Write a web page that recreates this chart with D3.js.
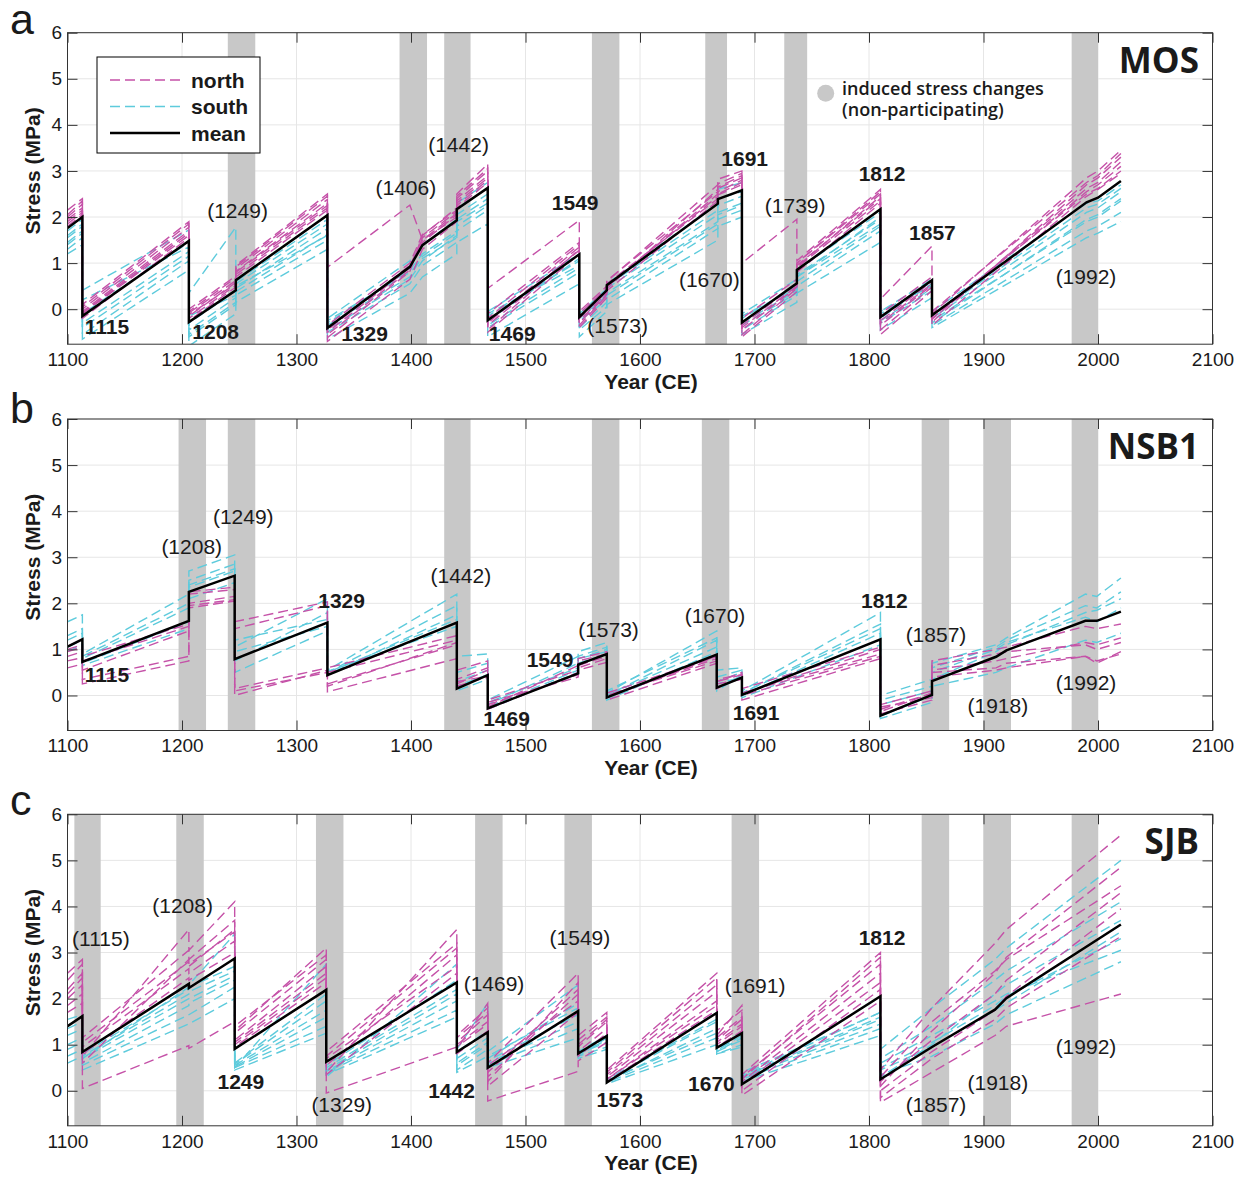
<html>
<head>
<title>Stress evolution MOS / NSB1 / SJB</title>
<script src="https://d3js.org/d3.v7.min.js"></script>
<style>
  body { margin: 0; background: #fff; }
  text { font-family: "Liberation Sans", Arial, sans-serif; fill: #1a1a1a; }
</style>
</head>
<body>
<script>
const w = 1250;
const h = 1177;
const xLeft = 67.5;
const xRight = 1212.5;
const plotH = 311.5;

const xTicks = [1100, 1200, 1300, 1400, 1500, 1600, 1700, 1800, 1900, 2000, 2100];
const yTicks = [0, 1, 2, 3, 4, 5, 6];

// ---- panel a : MOS ----
const yearsA = [1100, 1113, 1113, 1206, 1206, 1247, 1247, 1327, 1327, 1399, 1410, 1440, 1440, 1467, 1467, 1547,
  1547, 1571, 1571, 1668, 1668, 1689, 1689, 1737, 1737, 1810, 1810, 1855, 1855, 1990, 2000, 2020];
const meanA = [1.76, 2.00, -0.15, 1.48, -0.28, 0.41, 0.63, 2.04, -0.41, 0.92, 1.39, 1.93, 2.17, 2.63, -0.24, 1.19,
  -0.17, 0.41, 0.52, 2.29, 2.39, 2.58, -0.29, 0.56, 0.85, 2.17, -0.17, 0.63, -0.13, 2.32, 2.42, 2.78];
const northA = [
  [1.95, 2.20, -0.05, 1.70, -0.15, 0.58, 0.82, 2.30, -0.50, 0.90, 1.45, 2.05, 2.35, 2.90, -0.30, 1.35, -0.25, 0.35, 0.50, 2.45, 2.55, 2.80, -0.40, 0.50, 0.95, 2.40, -0.30, 0.55, -0.20, 2.55, 2.70, 3.10],
  [2.05, 2.35, 0.05, 1.85, -0.05, 0.68, 0.92, 2.45, -0.62, 0.82, 1.55, 2.12, 2.45, 3.05, -0.45, 1.30, -0.35, 0.30, 0.45, 2.60, 2.72, 2.95, -0.55, 0.45, 1.00, 2.55, -0.45, 0.48, -0.28, 2.70, 2.85, 3.30],
  [1.85, 2.10, -0.10, 1.60, -0.20, 0.52, 0.75, 2.20, 0.91, 2.26, 1.50, 2.00, 2.25, 2.80, -0.35, 1.28, -0.20, 0.38, 0.55, 2.40, 2.50, 2.75, -0.35, 0.55, 0.90, 2.35, -0.25, 0.60, -0.15, 2.50, 2.62, 3.00],
  [1.90, 2.15, -0.08, 1.65, -0.12, 0.55, 0.80, 2.25, -0.45, 0.95, 1.50, 2.08, 2.30, 2.85, 0.45, 1.93, -0.30, 0.32, 0.48, 2.50, 2.62, 2.85, -0.45, 0.48, 0.92, 2.45, -0.35, 0.52, -0.22, 2.62, 2.75, 3.20],
  [2.15, 2.40, 0.10, 1.90, 0.00, 0.72, 0.95, 2.50, -0.55, 0.85, 1.60, 2.20, 2.50, 3.15, -0.20, 1.40, -0.10, 0.45, 0.60, 2.70, 2.82, 3.00, 1.00, 1.95, 1.05, 2.60, 0.22, 1.37, -0.10, 2.85, 3.00, 3.45],
  [1.80, 2.05, -0.20, 1.55, -0.25, 0.48, 0.70, 2.15, -0.70, 0.65, 1.30, 1.90, 2.20, 2.75, -0.50, 1.20, -0.40, 0.25, 0.40, 2.35, 2.48, 2.70, -0.60, 0.38, 0.80, 2.30, -0.55, 0.40, -0.35, 2.45, 2.60, 2.95],
  [2.00, 2.28, 0.00, 1.78, -0.08, 0.62, 0.88, 2.38, -0.35, 1.00, 1.62, 2.15, 2.40, 3.00, -0.10, 1.45, -0.05, 0.50, 0.62, 2.55, 2.65, 2.90, -0.20, 0.65, 1.00, 2.50, -0.10, 0.70, -0.05, 2.75, 2.90, 3.38]
];
const southA = [
  [1.55, 1.80, -0.30, 1.25, -0.45, 0.25, 0.45, 1.75, -0.30, 0.85, 1.20, 1.70, 1.95, 2.40, -0.15, 1.05, -0.20, 0.30, 0.45, 2.05, 2.25, 2.45, -0.20, 0.50, 0.75, 1.95, -0.10, 0.55, -0.20, 2.10, 2.20, 2.55],
  [1.40, 1.65, 0.41, 1.72, 0.35, 1.78, 0.50, 1.60, -0.25, 0.80, 1.10, 1.55, 1.80, 2.25, -0.10, 0.95, -0.25, 0.20, 0.35, 1.90, 2.10, 2.30, -0.15, 0.45, 0.70, 1.85, -0.05, 0.50, -0.25, 1.90, 2.00, 2.35],
  [1.30, 1.55, -0.55, 1.05, -0.60, 0.10, 0.30, 1.50, -0.50, 0.55, 0.95, 1.45, 1.70, 2.15, -0.40, 0.80, -0.45, 0.05, 0.20, 1.75, 1.95, 2.15, -0.45, 0.30, 0.50, 1.70, -0.30, 0.40, -0.35, 1.70, 1.80, 2.10],
  [1.70, 1.95, -0.10, 1.45, -0.30, 0.40, 0.60, 1.95, -0.20, 1.05, 1.40, 1.95, 2.30, 2.75, -0.05, 1.20, -0.10, 0.45, 0.55, 2.30, 2.60, 2.75, -0.10, 0.65, 0.85, 2.10, -0.05, 0.65, -0.05, 2.30, 2.35, 2.70],
  [1.20, 1.40, -0.65, 0.85, -0.80, -0.10, 0.15, 1.30, -0.65, 0.35, 0.70, 1.20, 1.45, 1.85, -0.60, 0.55, -0.60, -0.05, 0.10, 1.50, 1.80, 2.00, -0.55, 0.15, 0.35, 1.45, -0.45, 0.25, -0.40, 1.55, 1.65, 1.90],
  [1.60, 1.85, 0.20, 1.35, -0.15, 0.30, 0.55, 1.85, -0.35, 0.70, 1.15, 1.65, 2.05, 2.50, -0.25, 1.10, -0.30, 0.35, 0.50, 2.15, 2.40, 2.55, -0.30, 0.40, 0.70, 2.00, -0.20, 0.60, -0.15, 2.20, 2.28, 2.62],
  [1.45, 1.70, -0.40, 1.15, -0.55, 0.15, 0.38, 1.62, -0.45, 0.65, 1.05, 1.60, 1.90, 2.30, -0.35, 0.90, -0.40, 0.15, 0.30, 1.85, 2.05, 2.25, -0.35, 0.35, 0.60, 1.80, -0.25, 0.45, -0.30, 1.95, 2.05, 2.40]
];
const bandsA = [[1240, 1264], [1390, 1414], [1429, 1452], [1558, 1582], [1657, 1676], [1726, 1746], [1977, 2000]];
// [text, year, stress, participating]
const labelsA = [["1115", 1115, -0.37, true], ["1208", 1209, -0.48, true], ["(1249)", 1222, 2.15, false],
  ["1329", 1339, -0.52, true], ["(1406)", 1369, 2.63, false], ["(1442)", 1415, 3.57, false],
  ["1469", 1468, -0.52, true], ["1549", 1523, 2.32, true], ["(1573)", 1554, -0.36, false],
  ["(1670)", 1634, 0.64, false], ["1691", 1671, 3.28, true], ["(1739)", 1709, 2.26, false],
  ["1812", 1791, 2.95, true], ["1857", 1835, 1.67, true], ["(1992)", 1963, 0.70, false]];

// ---- panel b : NSB1 ----
const yearsB = [1100, 1113, 1113, 1206, 1206, 1246, 1246, 1327, 1327, 1440, 1440, 1467, 1467, 1546, 1546, 1571,
  1571, 1667, 1667, 1689, 1689, 1810, 1810, 1855, 1855, 1911, 1920, 1989, 1999, 2020];
const meanB = [1.06, 1.22, 0.73, 1.62, 2.25, 2.60, 0.79, 1.58, 0.44, 1.58, 0.15, 0.44, -0.28, 0.48, 0.67, 0.90,
  -0.04, 0.89, 0.17, 0.39, 0.01, 1.22, -0.44, 0.01, 0.31, 0.84, 0.98, 1.62, 1.62, 1.82];
const northB = [
  [0.60, 0.68, 0.25, 0.75, 1.95, 2.08, 0.00, 0.55, 0.08, 0.80, 0.30, 0.42, -0.15, 0.40, 0.55, 0.72, 0.00, 0.75, 0.25, 0.35, -0.10, 0.80, -0.25, -0.05, 0.65, 0.90, 0.95, 1.10, 1.00, 1.15],
  [0.75, 0.82, 0.35, 0.85, 2.00, 2.15, 1.60, 2.03, 0.50, 1.20, 0.20, 0.40, -0.20, 0.45, 0.60, 0.80, -0.05, 0.85, 0.15, 0.40, 0.05, 0.90, -0.35, 0.05, 0.75, 1.00, 1.05, 1.50, 1.45, 1.55],
  [1.00, 1.10, 0.75, 1.50, 2.25, 2.35, 0.15, 0.60, 0.20, 1.15, 0.25, 0.55, -0.30, 0.50, 0.65, 0.85, 0.00, 0.80, 0.30, 0.45, 0.05, 1.00, -0.20, 0.10, 0.50, 0.60, 0.70, 0.85, 0.75, 0.90],
  [0.85, 0.95, 0.55, 1.40, 1.90, 2.05, 1.45, 1.95, 0.60, 1.30, 0.55, 0.75, -0.10, 0.55, 0.75, 0.90, -0.10, 0.70, 0.35, 0.45, 0.00, 0.85, -0.40, -0.10, 0.55, 0.75, 0.80, 1.15, 1.10, 1.25],
  [0.95, 1.05, 0.85, 1.55, 2.20, 2.30, 0.10, 0.50, 0.25, 1.10, 0.35, 0.60, -0.25, 0.65, 0.80, 0.95, 0.05, 0.85, 0.30, 0.50, 0.15, 1.05, -0.30, 0.05, 0.40, 0.55, 0.60, 0.85, 0.70, 0.95]
];
const southB = [
  [1.60, 1.75, 0.90, 2.20, 2.70, 3.05, 1.05, 2.10, 0.55, 2.20, 0.85, 0.90, -0.10, 0.85, 0.95, 1.15, 0.05, 1.40, 0.55, 0.60, 0.10, 1.80, 0.00, 0.35, 0.70, 1.10, 1.25, 2.20, 2.15, 2.55],
  [1.20, 1.35, 0.80, 1.90, 2.50, 2.85, 0.75, 1.80, 0.50, 1.95, 0.50, 0.70, -0.20, 0.70, 0.85, 1.05, 0.10, 1.25, 0.40, 0.55, 0.05, 1.55, -0.10, 0.20, 0.60, 1.05, 1.20, 1.95, 1.90, 2.25],
  [1.05, 1.20, 0.70, 1.60, 2.35, 2.70, 1.20, 1.65, 0.45, 1.75, 0.30, 0.55, -0.15, 0.60, 0.80, 0.95, 0.00, 1.05, 0.10, 0.45, 0.00, 1.35, -0.45, 0.00, 0.35, 0.95, 1.10, 1.80, 1.85, 2.10],
  [1.30, 1.45, 0.85, 2.00, 2.40, 2.75, 0.50, 1.40, 0.50, 1.65, 0.10, 0.35, -0.25, 0.55, 0.80, 1.00, 0.00, 1.20, 0.30, 0.50, 0.05, 1.45, -0.20, 0.10, 0.50, 1.00, 1.15, 1.70, 1.60, 1.90],
  [0.95, 1.10, 0.65, 1.45, 2.10, 2.45, 0.95, 1.50, 0.52, 1.50, 0.20, 0.45, -0.30, 0.50, 0.70, 0.90, -0.10, 0.95, 0.25, 0.40, -0.05, 1.10, -0.50, -0.15, 0.20, 0.50, 0.60, 1.20, 1.15, 1.35]
];
const bandsB = [[1197, 1221], [1240, 1264], [1429, 1452], [1558, 1582], [1654, 1678], [1846, 1870], [1900, 1924], [1977, 2000]];
const labelsB = [["1115", 1115, 0.45, true], ["(1208)", 1182, 3.23, false], ["(1249)", 1227, 3.88, false],
  ["1329", 1319, 2.07, true], ["(1442)", 1417, 2.61, false], ["1469", 1463, -0.51, true],
  ["1549", 1501, 0.78, true], ["(1573)", 1546, 1.44, false], ["(1670)", 1639, 1.74, false],
  ["1691", 1681, -0.37, true], ["1812", 1793, 2.07, true], ["(1857)", 1832, 1.33, false],
  ["(1918)", 1886, -0.21, false], ["(1992)", 1963, 0.28, false]];

// ---- panel c : SJB ----
const yearsC = [1100, 1113, 1113, 1206, 1206, 1246, 1246, 1326, 1326, 1440, 1440, 1467, 1467, 1546, 1546, 1571,
  1571, 1667, 1667, 1689, 1689, 1810, 1810, 1855, 1910, 1920, 2020];
const meanC = [1.40, 1.62, 0.84, 2.32, 2.23, 2.87, 0.91, 2.19, 0.63, 2.35, 0.84, 1.27, 0.50, 1.73, 0.81, 1.19,
  0.18, 1.69, 0.93, 1.25, 0.14, 2.05, 0.25, 0.95, 1.76, 2.01, 3.61];
const northC = [
  [2.00, 2.30, 0.95, 2.65, 2.55, 3.25, 1.05, 2.55, 0.70, 2.70, 0.95, 1.45, 0.55, 1.95, 0.85, 1.35, 0.25, 1.95, 1.00, 1.40, 0.15, 2.35, 0.00, 0.85, 1.75, 2.05, 3.95],
  [2.40, 2.75, 1.15, 3.05, 2.85, 3.70, 1.25, 2.85, 0.85, 3.20, 1.05, 1.65, 0.40, 2.20, 0.95, 1.50, 0.35, 2.30, 1.10, 1.55, 0.30, 2.75, 0.30, 1.50, 2.60, 2.85, 4.45],
  [1.85, 2.10, 0.05, 0.98, 0.92, 1.50, 0.95, 2.35, -0.05, 0.95, 0.80, 1.30, -0.22, 0.42, 0.65, 1.05, 0.20, 1.75, 0.95, 1.30, -0.10, 1.95, -0.25, 0.40, 1.20, 1.40, 2.10],
  [2.20, 2.55, 0.60, 2.85, 2.75, 3.45, 1.40, 2.95, 0.55, 2.95, 1.20, 1.80, 0.20, 2.35, 1.10, 1.60, 0.40, 2.45, 1.30, 1.75, 0.25, 2.90, 0.10, 1.30, 2.55, 2.90, 4.85],
  [2.55, 2.85, 0.75, 3.50, 3.05, 4.10, 1.10, 2.70, 0.40, 3.50, 0.90, 1.90, 0.60, 2.55, 1.20, 1.70, 0.30, 2.15, 1.20, 1.85, 0.35, 3.00, 0.45, 1.80, 3.20, 3.50, 5.55],
  [1.70, 1.90, 0.80, 2.45, 2.40, 3.00, 1.00, 2.45, 0.35, 2.55, 1.00, 1.50, 0.10, 1.70, 0.75, 1.25, 0.25, 1.85, 1.05, 1.45, 0.00, 2.20, -0.15, 0.70, 1.55, 1.80, 3.35],
  [2.10, 2.45, 1.05, 2.80, 2.70, 3.50, 1.30, 3.10, 0.75, 3.10, 1.15, 1.70, 0.30, 2.10, 1.00, 1.55, 0.45, 2.55, 1.15, 1.60, 0.20, 2.55, 0.20, 1.10, 2.10, 2.40, 4.30]
];
const southC = [
  [1.00, 1.15, 0.70, 2.00, 2.00, 2.50, 0.55, 1.75, 0.45, 2.10, 0.60, 1.05, 0.65, 1.65, 0.80, 1.10, 0.20, 1.35, 0.85, 1.15, 0.30, 1.55, 0.50, 1.05, 1.85, 2.05, 3.30],
  [0.75, 0.90, 0.55, 1.65, 1.65, 2.25, 0.50, 1.40, 0.40, 1.75, 0.45, 0.90, 0.55, 1.35, 0.75, 0.95, 0.18, 1.15, 0.80, 1.00, 0.25, 1.35, 0.60, 1.20, 1.95, 2.10, 3.05],
  [1.20, 1.35, 0.80, 2.20, 2.25, 2.70, 0.60, 2.10, 0.55, 2.40, 0.85, 1.30, 0.70, 1.90, 0.85, 1.20, 0.25, 1.55, 0.90, 1.25, 0.35, 1.70, 0.70, 1.40, 2.40, 2.60, 4.10],
  [0.60, 0.75, 0.45, 1.45, 1.45, 2.00, 0.45, 1.25, 0.35, 1.60, 0.40, 0.75, 0.50, 1.15, 0.70, 0.90, 0.15, 1.00, 0.80, 0.95, 0.20, 1.20, 0.35, 0.75, 1.45, 1.65, 2.80],
  [1.55, 1.65, 0.70, 2.25, 2.30, 3.40, 0.50, 2.75, 0.30, 2.75, 0.90, 1.90, 0.85, 2.30, 0.75, 1.15, 0.20, 1.70, 0.85, 1.30, 0.40, 1.70, 0.90, 1.80, 2.85, 3.10, 5.00],
  [0.90, 1.05, 0.60, 1.85, 1.90, 2.40, 0.52, 1.60, 0.42, 1.95, 0.55, 1.00, 0.60, 1.50, 0.80, 1.05, 0.22, 1.25, 0.85, 1.10, 0.28, 1.45, 0.45, 0.95, 1.75, 1.90, 3.45],
  [1.35, 1.50, 0.75, 2.10, 2.15, 2.60, 0.58, 1.95, 0.50, 2.20, 0.70, 1.15, 0.75, 1.80, 0.82, 1.15, 0.24, 1.50, 0.88, 1.20, 0.32, 1.60, 0.30, 1.00, 2.10, 2.30, 3.70]
];
const bandsC = [[1106, 1129], [1195, 1219], [1317, 1341], [1456, 1480], [1534, 1558], [1680, 1704], [1846, 1870], [1900, 1924], [1977, 2000]];
const labelsC = [["(1115)", 1104, 3.30, false], ["(1208)", 1174, 4.02, false], ["1249", 1231, 0.21, true],
  ["(1329)", 1313, -0.30, false], ["1442", 1415, 0.01, true], ["(1469)", 1446, 2.32, false],
  ["(1549)", 1521, 3.33, false], ["1573", 1562, -0.18, true], ["1670", 1642, 0.16, true],
  ["(1691)", 1674, 2.28, false], ["1812", 1791, 3.33, true], ["(1857)", 1832, -0.30, false],
  ["(1918)", 1886, 0.18, false], ["(1992)", 1963, 0.97, false]];

const panels = [
  { letter: "a", name: "MOS", top: 32.7, years: yearsA, mean: meanA, north: northA, south: southA, bands: bandsA, labels: labelsA },
  { letter: "b", name: "NSB1", top: 419, years: yearsB, mean: meanB, north: northB, south: southB, bands: bandsB, labels: labelsB },
  { letter: "c", name: "SJB", top: 814.3, years: yearsC, mean: meanC, north: northC, south: southC, bands: bandsC, labels: labelsC }
];

const northColor = "#c552a8";
const southColor = "#5ecbdc";
const bandColor = "#c8c8c8";
const axisColor = "#333333";

const svg = d3.select("body").append("svg").attr("width", w).attr("height", h);

panels.forEach((p, i) => {
  const bottom = p.top + plotH;
  const x = d3.scaleLinear().domain([1100, 2100]).range([xLeft, xRight]);
  const y = d3.scaleLinear().domain([-0.76, 6]).range([bottom, p.top]);
  const g = svg.append("g");

  g.append("clipPath").attr("id", "clip" + i)
    .append("rect").attr("x", xLeft).attr("y", p.top).attr("width", xRight - xLeft).attr("height", plotH);

  // grid
  g.selectAll(".gx").data(xTicks).join("line")
    .attr("x1", d => x(d)).attr("x2", d => x(d)).attr("y1", p.top).attr("y2", bottom)
    .attr("stroke", "#e6e6e6").attr("stroke-width", 1);
  g.selectAll(".gy").data(yTicks).join("line")
    .attr("x1", xLeft).attr("x2", xRight).attr("y1", d => y(d)).attr("y2", d => y(d))
    .attr("stroke", "#e6e6e6").attr("stroke-width", 1);

  // non-participating bands
  g.selectAll(".band").data(p.bands).join("rect")
    .attr("x", d => x(d[0])).attr("width", d => x(d[1]) - x(d[0]))
    .attr("y", p.top).attr("height", plotH).attr("fill", bandColor);

  const line = d3.line()
    .defined(d => d !== null)
    .x((d, j) => x(p.years[j]))
    .y(d => y(d));

  const lines = g.append("g").attr("clip-path", "url(#clip" + i + ")");
  lines.selectAll(".south").data(p.south).join("path")
    .attr("d", line).attr("fill", "none").attr("stroke", southColor)
    .attr("stroke-width", 1.4).attr("stroke-dasharray", "10,5");
  lines.selectAll(".north").data(p.north).join("path")
    .attr("d", line).attr("fill", "none").attr("stroke", northColor)
    .attr("stroke-width", 1.4).attr("stroke-dasharray", "10,5");
  lines.append("path").datum(p.mean)
    .attr("d", line).attr("fill", "none").attr("stroke", "#000")
    .attr("stroke-width", 2.5).attr("stroke-linejoin", "miter");

  // axes
  g.append("g").attr("transform", "translate(0," + bottom + ")")
    .call(d3.axisBottom(x).tickValues(xTicks).tickFormat(d3.format("d")).tickSize(-10).tickSizeOuter(0).tickPadding(8.5));
  g.append("g").attr("transform", "translate(0," + p.top + ")")
    .call(d3.axisTop(x).tickValues(xTicks).tickSize(-10).tickSizeOuter(0).tickFormat(""));
  g.append("g").attr("transform", "translate(" + xLeft + ",0)")
    .call(d3.axisLeft(y).tickValues(yTicks).tickFormat(d3.format("d")).tickSize(-10).tickSizeOuter(0).tickPadding(5.5));
  g.append("g").attr("transform", "translate(" + xRight + ",0)")
    .call(d3.axisRight(y).tickValues(yTicks).tickSize(-10).tickSizeOuter(0).tickFormat(""));
  g.selectAll(".domain").remove();
  g.selectAll(".tick line").attr("stroke", axisColor);
  g.selectAll(".tick text").attr("font-size", 19).attr("font-family", "Liberation Sans, Arial, sans-serif").attr("fill", "#262626");

  g.append("rect").attr("x", xLeft).attr("y", p.top).attr("width", xRight - xLeft).attr("height", plotH)
    .attr("fill", "none").attr("stroke", axisColor).attr("stroke-width", 1);

  // event labels
  g.selectAll(".evt").data(p.labels).join("text")
    .attr("x", d => x(d[1])).attr("y", d => y(d[2]))
    .attr("dominant-baseline", "central")
    .attr("font-size", 21)
    .attr("font-weight", d => d[3] ? "bold" : "normal")
    .text(d => d[0]);

  // station name
  g.append("text").attr("x", 1199).attr("y", p.top + 26.5)
    .attr("text-anchor", "end").attr("dominant-baseline", "central")
    .attr("font-weight", "bold").attr("font-size", 35)
    .style("font-family", "'Open Sans', sans-serif")
    .text(p.name);

  // axis titles
  g.append("text").attr("transform", "translate(32," + y(3) + ") rotate(-90)")
    .attr("text-anchor", "middle").attr("dominant-baseline", "central")
    .attr("font-size", 21).attr("font-weight", "bold").text("Stress (MPa)");
  g.append("text").attr("x", 651).attr("y", bottom + 44.5)
    .attr("text-anchor", "middle").attr("font-size", 21).attr("font-weight", "bold").text("Year (CE)");

  // panel letter
  g.append("text").attr("x", 10).attr("y", p.top + (i === 1 ? 4 : 0.8))
    .attr("font-size", 43).text(p.letter);
});

// legend, panel a
const legendItems = [["north", northColor, "10,5"], ["south", southColor, "10,5"], ["mean", "#000", null]];
const leg = svg.append("g");
leg.append("rect").attr("x", 97).attr("y", 57).attr("width", 163).attr("height", 96)
  .attr("fill", "#fff").attr("stroke", "#000").attr("stroke-width", 1);
legendItems.forEach((d, k) => {
  const ly = 80 + k * 26.5;
  leg.append("line").attr("x1", 110).attr("x2", 180).attr("y1", ly).attr("y2", ly)
    .attr("stroke", d[1]).attr("stroke-width", d[2] ? 1.6 : 2.5)
    .attr("stroke-dasharray", d[2]);
  leg.append("text").attr("x", 191).attr("y", ly).attr("dominant-baseline", "central")
    .attr("font-size", 21).attr("font-weight", "bold").text(d[0]);
});

// induced stress note, panel a
const ind = svg.append("g");
ind.append("circle").attr("cx", 825.7).attr("cy", 93.3).attr("r", 8.5).attr("fill", bandColor);
const note = ind.append("text").attr("x", 842).attr("y", 95).attr("font-size", 18).attr("font-weight", 600)
  .style("font-family", "'Open Sans', sans-serif");
note.append("tspan").attr("x", 842).text("induced stress changes");
note.append("tspan").attr("x", 842).attr("dy", 21).text("(non-participating)");
</script>
</body>
</html>
